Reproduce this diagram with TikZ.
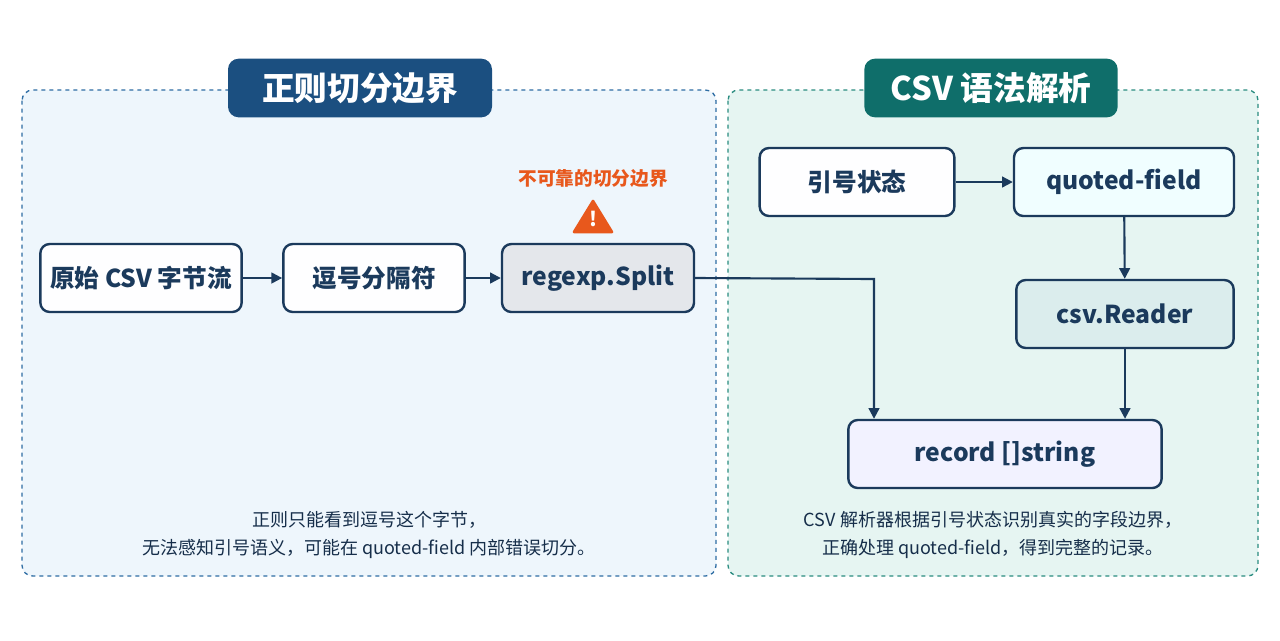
\documentclass[tikz,border=0pt]{standalone}
\usepackage{fontspec}
\setmainfont{Noto Sans CJK SC}
\usetikzlibrary{arrows.meta}
\definecolor{navy}{HTML}{1B3A5C}
\definecolor{lblue}{HTML}{2E6DA4}
\definecolor{lteal}{HTML}{2A8C80}
\definecolor{tabblue}{HTML}{1B4F80}
\definecolor{tabteal}{HTML}{0F6E6A}
\definecolor{orng}{HTML}{E8581C}
\definecolor{pblue}{HTML}{EEF6FC}
\definecolor{pteal}{HTML}{E6F5F2}
\tikzset{
 box/.style={draw=navy,line width=1.8pt,rounded corners=7pt,fill=white!92!blue!6,font=\fontsize{18.5}{22}\selectfont\bfseries,text=navy},
 tab/.style={rounded corners=8pt,font=\fontsize{24.5}{28}\selectfont\bfseries,text=white},
 panel/.style={dashed,line width=1pt,rounded corners=8pt},
 arr/.style={draw=navy,line width=1.6pt,-{Triangle[length=8pt,width=8pt]}},
 captxt/.style={font=\fontsize{13.5}{21}\selectfont,text=navy!80!black,align=center}
}
\begin{document}
\begin{tikzpicture}[x=0.75pt,y=-0.75pt]
\path[use as bounding box,fill=white] (0,0) rectangle (1280,640);
\draw[panel,draw=lblue,fill=pblue] (22,90) rectangle (716,576);
\draw[panel,draw=lteal,fill=pteal] (728,90) rectangle (1258,576);
\node[tab,fill=tabblue,minimum width=198pt,minimum height=44pt] (t1) at (360,88) {正则切分边界};
\node[tab,fill=tabteal,minimum width=190pt,minimum height=44pt] (t2) at (991,88) {CSV 语法解析};
\node[box,minimum width=151pt,minimum height=51pt] (a) at (141,278) {原始 CSV 字节流};
\node[box,minimum width=136pt,minimum height=51pt] (b) at (374,278) {逗号分隔符};
\node[box,minimum width=144pt,minimum height=51pt,fill=navy!12!white] (c) at (598,278) {regexp.Split};
\node[font=\fontsize{14}{16}\selectfont\bfseries,text=orng] (w) at (593,178) {不可靠的切分边界};
\draw[fill=orng,draw=orng,line width=2pt,line join=round] (593,201) -- (612,232) -- (574,232) -- cycle;
\node[text=white,font=\fontsize{15}{15}\selectfont\bfseries] (ex) at (593,219) {!};
\node[box,minimum width=146pt,minimum height=51pt] (d) at (857,182) {引号状态};
\node[box,minimum width=165pt,minimum height=51pt,fill=blue!8!cyan!6!white] (e) at (1124,182) {quoted-field};
\node[box,minimum width=163pt,minimum height=51pt,fill=teal!14!white] (f) at (1125,314) {csv.Reader};
\node[box,minimum width=235pt,minimum height=51pt,fill=blue!5!white] (g) at (1005,454) {record []string};
\draw[arr] (a) -- (b);
\draw[arr] (b) -- (c);
\draw[arr] (d) -- (e);
\draw[arr] (e) -- (f);
\draw[arr] (f.south) -- (f.south|-g.north);
\coordinate (k) at (874,279);
\draw[arr] (c.east) -- (k) -- (k|-g.north);
\node[captxt] (c1) at (369,535) {正则只能看到逗号这个字节，\\无法感知引号语义，可能在 quoted-field 内部错误切分。};
\node[captxt] (c2) at (993,535) {CSV 解析器根据引号状态识别真实的字段边界，\\正确处理 quoted-field，得到完整的记录。};
\end{tikzpicture}
\end{document}
